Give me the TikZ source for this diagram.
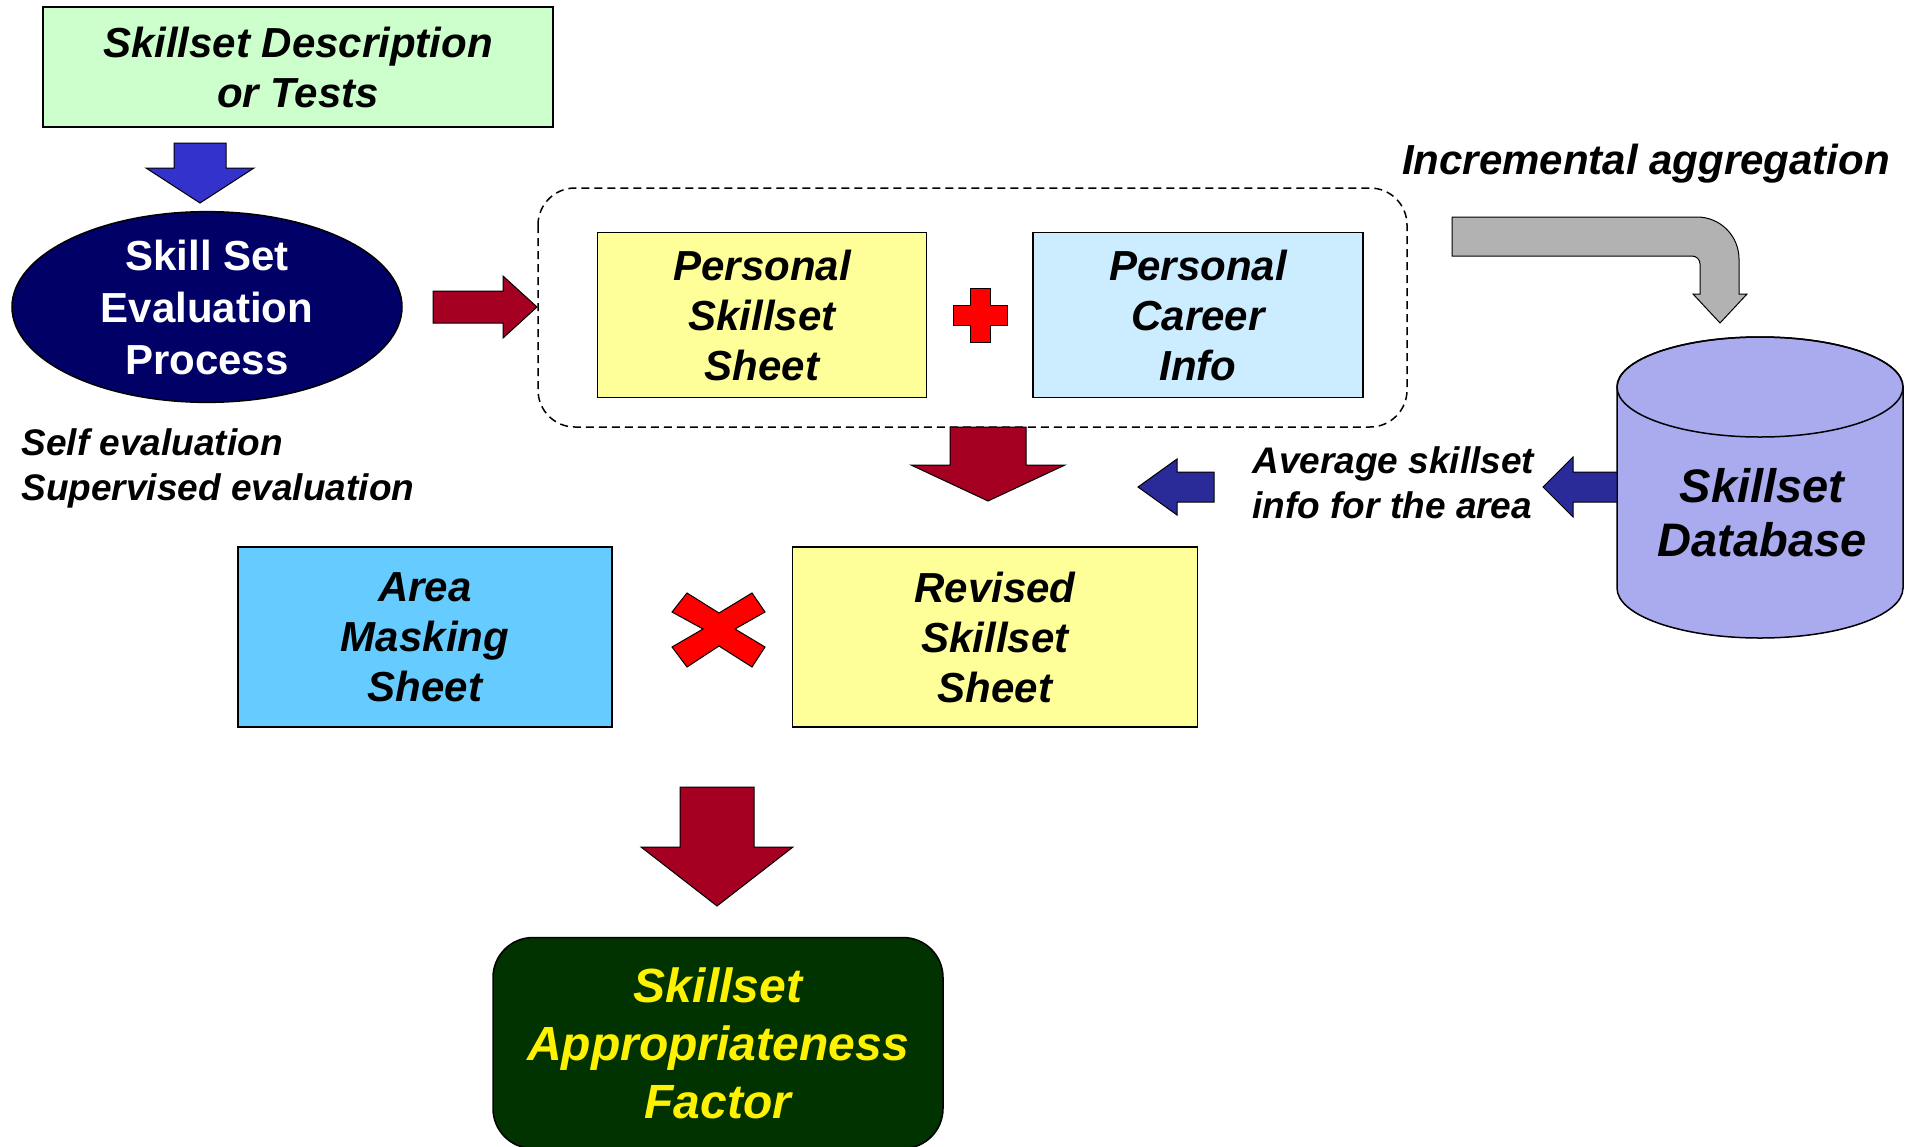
\documentclass[tikz,border=0pt]{standalone}
\usepackage{fontspec}
\setmainfont{Liberation Sans}
\usetikzlibrary{shapes.geometric}
\definecolor{descgreen}{HTML}{CCFFCC}
\definecolor{evalnavy}{HTML}{000066}
\definecolor{sheetyellow}{HTML}{FFFF99}
\definecolor{careerblue}{HTML}{CCECFF}
\definecolor{maskblue}{HTML}{66CCFF}
\definecolor{dbviolet}{HTML}{AAAAEE}
\definecolor{arrowred}{HTML}{A50021}
\definecolor{arrowblue}{HTML}{3333CC}
\definecolor{avgblue}{HTML}{2A2A99}
\definecolor{aggray}{HTML}{B2B2B2}
\definecolor{factorgreen}{HTML}{003300}
\tikzset{
  txt/.style={font=\bfseries\itshape\fontsize{42}{50}\selectfont, align=center},
  small/.style={font=\bfseries\itshape\fontsize{37}{45}\selectfont, align=left},
  sheet/.style={txt, draw, line width=1.5pt, inner sep=0pt},
  fat/.style={draw, line width=1pt, line join=miter}
}
% block arrows: style, centre, start, neck, tip, shaft half width, head half width
\newcommand{\fatdown}[7]{\draw[fat,#1] (#2-#6,#3) -- (#2+#6,#3) -- (#2+#6,#4) -- (#2+#7,#4) -- (#2,#5) -- (#2-#7,#4) -- (#2-#6,#4) -- cycle;}
\newcommand{\fatleft}[7]{\draw[fat,#1] (#3,#2-#6) -- (#3,#2+#6) -- (#4,#2+#6) -- (#4,#2+#7) -- (#5,#2) -- (#4,#2-#7) -- (#4,#2-#6) -- cycle;}

\begin{document}
\begin{tikzpicture}[x=1pt,y=-1pt]
    \useasboundingbox (0,0) rectangle (1913,1146);
    % top: description and evaluation
    \node[sheet, fill=descgreen, minimum width=510pt, minimum height=120pt] (desc) at (298,67) {Skillset Description\\or Tests};
    \fatdown{fill=arrowblue}{200}{143}{168}{203}{26}{54}
    \node[ellipse, draw, line width=1.5pt, fill=evalnavy, minimum width=390pt, minimum height=178pt, inner sep=0pt,
          text=white, font=\bfseries\fontsize{42}{52}\selectfont, align=center] (eval) at (207,307) {Skill Set\\Evaluation\\Process};
    \node[small, anchor=west] (modes) at (18,468) {Self evaluation\\Supervised evaluation};
    \fatleft{fill=arrowred}{307}{433}{503}{537}{16}{31}

    % personal sheets
    \draw[dashed, dash pattern=on 8pt off 5pt, line width=1.5pt, rounded corners=37pt] (538,188) rectangle (1407,427);
    \node[sheet, fill=sheetyellow, minimum width=329pt, minimum height=165pt] (pss) at (762,315) {Personal\\Skillset\\Sheet};
    \node[sheet, fill=careerblue, minimum width=330pt, minimum height=165pt] (pci) at (1198,315) {Personal\\Career\\Info};
    \draw[fat, fill=red] (970,288) -- (990,288) -- (990,305) -- (1007,305) -- (1007,325) -- (990,325) -- (990,342)
        -- (970,342) -- (970,325) -- (953,325) -- (953,305) -- (970,305) -- cycle;
    \fatdown{fill=arrowred}{988}{427}{465}{501}{38}{77}

    % database
    \node[txt] (incr) at (1646,164) {Incremental aggregation};
    \draw[fat, fill=aggray] (1452,217) -- (1697,217) arc[start angle=90, end angle=0, radius=42pt] -- (1739,294) -- (1747,294)
        -- (1720,323) -- (1693,294) -- (1700,294) -- (1700,264) arc[start angle=0, end angle=90, radius=8pt] -- (1452,256) -- cycle;
    \draw[line width=1.5pt, fill=dbviolet] (1617,387) -- (1617,588) arc[start angle=180, end angle=360, x radius=143pt, y radius=50pt]
        -- (1903,387) arc[start angle=0, end angle=180, x radius=143pt, y radius=50pt] -- cycle;
    \draw[line width=1.5pt] (1760,387) ellipse[x radius=143pt, y radius=50pt];
    \node[txt, font=\bfseries\itshape\fontsize{47}{54}\selectfont] (db) at (1762,513) {Skillset\\Database};
    \fatleft{fill=avgblue}{487}{1617}{1573}{1543}{15}{30}
    \node[small, anchor=west] (avg) at (1249,483) {Average skillset\\info for the area};
    \fatleft{fill=avgblue}{487}{1214}{1177}{1138}{15}{28}

    % masking and result
    \node[sheet, fill=maskblue, minimum width=374pt, minimum height=180pt] (ams) at (425,637) {Area\\Masking\\Sheet};
    \node[sheet, fill=sheetyellow, minimum width=405pt, minimum height=180pt] (rss) at (995,637) {Revised\\Skillset\\Sheet};
    \draw[fat, fill=red] (672,612) -- (687,593) -- (719,613) -- (752,593) -- (765,612) -- (735,629) -- (765,647) -- (752,667)
        -- (719,646) -- (687,667) -- (672,647) -- (703,629) -- cycle;
    \fatdown{fill=arrowred}{717}{787}{847}{906}{37}{76}
    \node[sheet, fill=factorgreen, text=yellow, rounded corners=40pt, minimum width=450pt, minimum height=211pt,
          font=\bfseries\itshape\fontsize{48}{58}\selectfont] (saf) at (718,1043) {Skillset\\Appropriateness\\Factor};
\end{tikzpicture}
\end{document}
